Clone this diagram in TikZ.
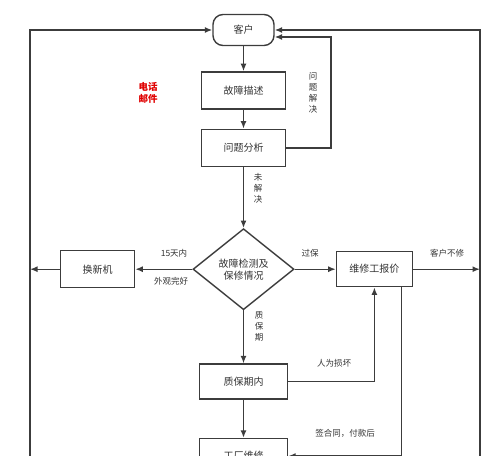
\documentclass[tikz,border=0pt]{standalone}
\usepackage{fontspec}
\setmainfont{Noto Sans CJK SC}
\usepackage{tikz}
\usetikzlibrary{positioning,shapes.geometric,arrows.meta}
\definecolor{linegray}{HTML}{3C3C3C}
\definecolor{txtgray}{HTML}{333333}
\definecolor{callred}{HTML}{E00000}

\tikzset{
  box/.style={draw=linegray, line width=1.4pt, minimum width=84pt, minimum height=37pt,
              inner sep=2pt, text=txtgray, font=\fontsize{10}{12}\selectfont},
  term/.style={box, rounded corners=10pt, minimum width=61pt, minimum height=31pt},
  dia/.style={diamond, draw=linegray, line width=1.4pt, minimum width=101pt, minimum height=81pt,
              inner sep=0pt, align=center, text=txtgray, font=\fontsize{10}{12}\selectfont},
  lbl/.style={text=txtgray, inner sep=1pt, font=\fontsize{8.5}{10}\selectfont},
  vlbl/.style={lbl, align=center, font=\fontsize{8.5}{11}\selectfont},
  flow/.style={draw=linegray, line width=1.4pt, ->}
}

\begin{document}
\begin{tikzpicture}[x=1pt, y=-1pt, >={Latex[length=7.5pt,width=6pt]}]
\useasboundingbox (0,0) rectangle (500,455);

\node(cust) [term] at (243.5,30) {客户};
\node(desc)   [box, below=25pt of cust] {故障描述};
\node(anal)   [box, below=19pt of desc] {问题分析};
\node(chk)    [dia, below=61pt of anal] {故障检测及\\保修情况};
\node(swap)   [box, left=57pt of chk, minimum width=74pt] {换新机};
\node(quote)  [box, right=41pt of chk, minimum width=76pt, minimum height=35pt] {维修工报价};
\node(inwar)  [box, below=53pt of chk, minimum width=88pt, minimum height=35pt] {质保期内};
\node(fact)   [box, below=38pt of inwar, minimum width=88pt, minimum height=35pt] {工厂维修};

% outer return lines
\coordinate(lt) at (30,30);
\coordinate(lb) at (30,470);
\coordinate(rt) at (480,30);
\coordinate(rb) at (480,470);
\coordinate(ret) at (331,37);

\draw[flow] (lb) -- (lt) -- (cust);
\draw[flow] (rb) -- (rt) -- (cust);
\draw[flow] (cust) -- (desc);
\draw[flow] (desc) -- (anal);
\draw[flow] (anal) -- (chk);
\draw[flow] (anal.east) -| (ret) -- (ret -| cust.east);
\draw[flow] (chk) -- (swap);
\draw[flow] (chk) -- (quote);
\draw[flow] (swap) -- (swap.west -| lt);
\draw[flow] (quote) -- (quote.east -| rt);
\draw[flow] (chk) -- (inwar);
\draw[flow] (inwar) -- (fact);
\draw[flow] (inwar) -| (quote);
\draw[flow] ([xshift=27pt]quote.south) |- (fact);

% labels
\node(call)   [text=callred, align=center, font=\bfseries\fontsize{9.5}{12}\selectfont] at (148,93) {电话\\邮件};
\node(lsolve) [vlbl] at (313,93) {问\\题\\解\\决};
\node(lopen)  [vlbl] at (258,188) {未\\解\\决};
\node(l15)    [lbl] at (174,253) {15天内};
\node(lgood)  [lbl] at (171,281) {外观完好};
\node(lover)  [lbl] at (310,253) {过保};
\node(lnofix) [lbl] at (447,253) {客户不修};
\node(lwar)   [vlbl] at (259,326) {质\\保\\期};
\node(lhuman) [lbl] at (334,363) {人为损坏};
\node(lpay)   [lbl] at (345,433) {签合同，付款后};
\end{tikzpicture}
\end{document}
